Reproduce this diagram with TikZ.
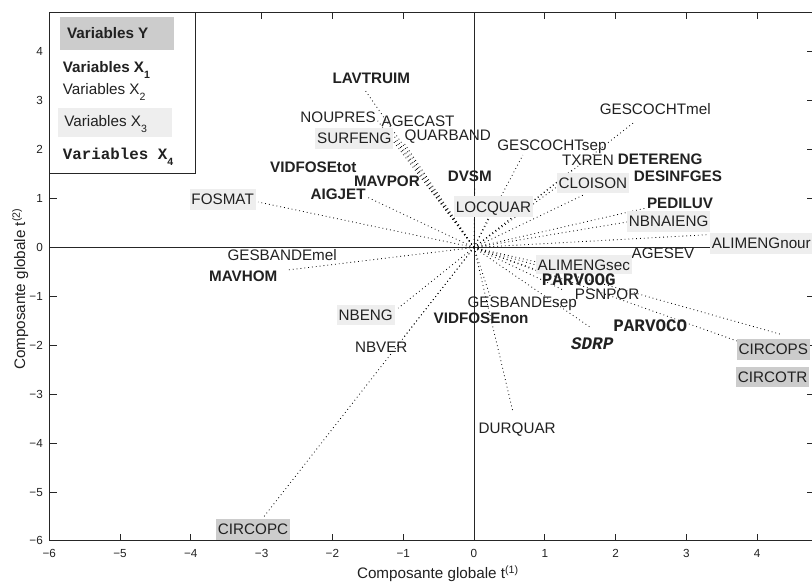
\documentclass[tikz,border=0pt]{standalone}
\usepackage{fontspec}
\setmainfont{Liberation Sans}
\setmonofont{Liberation Mono}
\usetikzlibrary{positioning}

\definecolor{boxdark}{gray}{0.8}
\definecolor{boxlight}{gray}{0.935}
\definecolor{labeltext}{gray}{0.13}
\newcommand{\legsub}[1]{\raisebox{-5pt}{\fontsize{9}{10}\selectfont #1}}

\begin{document}
\begin{tikzpicture}[
        x=2.124cm, y=1.467cm,
        var_y/.style={fill=boxdark, text=labeltext, font=\fontsize{13}{15}\selectfont, inner xsep=1.5pt, inner ysep=4.2pt, text height=9.4pt, text depth=0pt},
        var_x1/.style={text=labeltext, font=\fontsize{13}{15}\selectfont\bfseries, inner sep=1pt, text height=9.4pt, text depth=0pt},
        var_x2/.style={text=labeltext, font=\fontsize{13}{15}\selectfont, inner sep=1pt, text height=9.4pt, text depth=0pt},
        var_x3/.style={fill=boxlight, text=labeltext, font=\fontsize{13}{15}\selectfont, inner xsep=1.5pt, inner ysep=4.2pt, text height=9.4pt, text depth=0pt},
        var_x4/.style={text=labeltext, font=\fontsize{15}{17}\selectfont\ttfamily\bfseries, inner sep=1pt, text height=9pt, text depth=0pt},
        var_line/.style={black, line width=0.7pt, dash pattern=on 0.7pt off 2.6pt},
        axis_line/.style={black!85, line width=0.8pt},
        tick_label/.style={text=labeltext, font=\fontsize{10}{12}\selectfont, inner sep=1pt, text height=7pt, text depth=0pt},
        leg_text/.style={text=labeltext, anchor=west, inner sep=0pt, text height=9.4pt, text depth=0pt}
        ]
            \useasboundingbox (-6.695,-6.881) rectangle (4.774,5.061);
            \clip (-6.695,-6.881) rectangle (4.774,5.061);

            % Axes
            \draw[axis_line] (-6,-6) rectangle (4.8,4.8);
            \draw[axis_line] (-6,0) -- (4.8,0);
            \draw[axis_line] (0,-6) -- (0,4.8);
            \foreach \t/\lab in {-6/−6,-5/−5,-4/−4,-3/−3,-2/−2,-1/−1,0/0,1/1,2/2,3/3,4/4}
            {
                \draw[axis_line] (\t,-6) -- ++(0,0.2cm);
                \draw[axis_line] (\t,4.8) -- ++(0,-0.2cm);
                \draw[axis_line] (-6,\t) -- ++(0.22cm,0);
                \draw[axis_line] (4.8,\t) -- ++(-0.22cm,0);
                \node[tick_label] at (\t,-6.26) {\lab};
                \node[tick_label, anchor=east] at (-6.07,\t) {\lab};
            }
            \node[text=labeltext, font=\fontsize{13}{15}\selectfont] (title_x) at (-0.51,-6.68) {Composante globale t\textsuperscript{(1)}};
            \node[text=labeltext, font=\fontsize{13}{15}\selectfont, rotate=90] (title_y) at (-6.41,-0.85) {Composante globale t\textsuperscript{(2)}};

            % end points
            \coordinate (origin) at (0,0);
            \coordinate (e_lavtruim)  at (-1.54,3.22);
            \coordinate (e_noupres)   at (-1.36,2.59);
            \coordinate (e_agecast)   at (-1.21,2.44);
            \coordinate (e_surfeng)   at (-1.12,2.20);
            \coordinate (e_quarband)  at (-0.99,2.14);
            \coordinate (e_mavpor)    at (-0.69,1.32);
            \coordinate (e_aigjet)    at (-1.51,1.03);
            \coordinate (e_fosmat)    at (-3.05,0.93);
            \coordinate (e_dvsm)      at (0.01,1.22);
            \coordinate (e_locquar)   at (0.20,0.60);
            \coordinate (e_gescosep)  at (0.69,1.89);
            \coordinate (e_gescomel)  at (2.27,2.57);
            \coordinate (e_txren)     at (1.38,1.58);
            \coordinate (e_cloison)   at (1.17,1.24);
            \coordinate (e_desinfges) at (1.54,1.07);
            \coordinate (e_pediluv)   at (2.44,0.81);
            \coordinate (e_nbnaieng)  at (2.16,0.52);
            \coordinate (e_alimnour)  at (3.29,0.26);
            \coordinate (e_alimsec)   at (0.89,-0.30);
            \coordinate (e_parvoog)   at (0.93,-0.50);
            \coordinate (e_psnpor)    at (1.26,-0.87);
            \coordinate (e_gesbsep)   at (0.23,-1.01);
            \coordinate (e_durquar)   at (0.55,-3.36);
            \coordinate (e_sdrp)      at (1.64,-1.63);
            \coordinate (e_circops)   at (4.32,-1.77);
            \coordinate (e_circotr)   at (3.71,-1.91);
            \coordinate (e_mavhom)    at (-2.63,-0.46);
            \coordinate (e_nbeng)     at (-1.07,-1.24);
            \coordinate (e_nbver)     at (-1.00,-1.85);
            \coordinate (e_circopc)   at (-2.97,-5.51);

            % Lines
            \draw[var_line] (origin) -- (e_lavtruim);
            \draw[var_line] (origin) -- (e_noupres);
            \draw[var_line] (origin) -- (e_agecast);
            \draw[var_line] (origin) -- (e_surfeng);
            \draw[var_line] (origin) -- (e_quarband);
            \draw[var_line] (origin) -- (e_mavpor);
            \draw[var_line] (origin) -- (e_aigjet);
            \draw[var_line] (origin) -- (e_fosmat);
            \draw[var_line] (origin) -- (e_dvsm);
            \draw[var_line] (origin) -- (e_locquar);
            \draw[var_line] (origin) -- (e_gescosep);
            \draw[var_line] (origin) -- (e_gescomel);
            \draw[var_line] (origin) -- (e_txren);
            \draw[var_line] (origin) -- (e_cloison);
            \draw[var_line] (origin) -- (e_desinfges);
            \draw[var_line] (origin) -- (e_pediluv);
            \draw[var_line] (origin) -- (e_nbnaieng);
            \draw[var_line] (origin) -- (e_alimnour);
            \draw[var_line] (origin) -- (e_alimsec);
            \draw[var_line] (origin) -- (e_parvoog);
            \draw[var_line] (origin) -- (e_psnpor);
            \draw[var_line] (origin) -- (e_gesbsep);
            \draw[var_line] (origin) -- (e_durquar);
            \draw[var_line] (origin) -- (e_sdrp);
            \draw[var_line] (origin) -- (e_circops);
            \draw[var_line] (origin) -- (e_circotr);
            \draw[var_line] (origin) -- (e_mavhom);
            \draw[var_line] (origin) -- (e_nbeng);
            \draw[var_line] (origin) -- (e_nbver);
            \draw[var_line] (origin) -- (e_circopc);

            % variables Y
            \node[var_y, anchor=west] (v_circops) at (3.71,-2.08) {CIRCOPS};
            \node[var_y, anchor=west] (v_circotr) at (3.70,-2.65) {CIRCOTR};
            \node[var_y]              (v_circopc) at (-3.12,-5.76) {CIRCOPC};
            % variables X1
            \node[var_x1] (v_lavtruim)   at (-1.45,3.47)  {LAVTRUIM};
            \node[var_x1] (v_vidfosetot) at (-2.27,1.64)  {VIDFOSEtot};
            \node[var_x1] (v_mavpor)     at (-1.23,1.36)  {MAVPOR};
            \node[var_x1] (v_aigjet)     at (-1.92,1.09)  {AIGJET};
            \node[var_x1] (v_dvsm)       at (-0.06,1.46)  {DVSM};
            \node[var_x1] (v_detereng)   at (2.63,1.81)   {DETERENG};
            \node[var_x1] (v_desinfges)  at (2.88,1.46)   {DESINFGES};
            \node[var_x1] (v_pediluv)    at (2.91,0.91)   {PEDILUV};
            \node[var_x1] (v_mavhom)     at (-3.26,-0.58) {MAVHOM};
            \node[var_x1] (v_vidfosenon) at (0.10,-1.44)  {VIDFOSEnon};
            % variables X2
            \node[var_x2] (v_noupres)  at (-1.92,2.67)  {NOUPRES};
            \node[var_x2] (v_agecast)  at (-0.79,2.59)  {AGECAST};
            \node[var_x2] (v_quarband) at (-0.37,2.30)  {QUARBAND};
            \node[var_x2] (v_gescomel) at (2.56,2.83)   {GESCOCHTmel};
            \node[var_x2] (v_gescosep) at (1.10,2.10)   {GESCOCHTsep};
            \node[var_x2] (v_txren)    at (1.61,1.79)   {TXREN};
            \node[var_x2] (v_agesev)   at (2.67,-0.11)  {AGESEV};
            \node[var_x2] (v_psnpor)   at (1.88,-0.95)  {PSNPOR};
            \node[var_x2] (v_gesbsep)  at (0.68,-1.11)  {GESBANDEsep};
            \node[var_x2] (v_durquar)  at (0.61,-3.69)  {DURQUAR};
            \node[var_x2] (v_gesbmel)  at (-2.71,-0.15) {GESBANDEmel};
            \node[var_x2] (v_nbver)    at (-1.31,-2.03) {NBVER};
            % variables X3
            \node[var_x3] (v_surfeng)  at (-1.69,2.23)  {SURFENG};
            \node[var_x3] (v_fosmat)   at (-3.55,0.99)  {FOSMAT};
            \node[var_x3] (v_locquar)  at (0.275,0.83)  {LOCQUAR};
            \node[var_x3] (v_cloison)  at (1.68,1.32)   {CLOISON};
            \node[var_x3] (v_nbnaieng) at (2.75,0.54)   {NBNAIENG};
            \node[var_x3, anchor=west] (v_alimnour) at (3.33,0.09) {ALIMENGnour};
            \node[var_x3, inner ysep=3.2pt] (v_alimsec) at (1.55,-0.35) {ALIMENGsec};
            \node[var_x3] (v_nbeng)    at (-1.53,-1.38) {NBENG};
            % variables X4
            \node[var_x4] (v_parvoog) at (1.48,-0.675) {PARVOOG};
            \node[var_x4] (v_parvoco) at (2.49,-1.61) {PARVOCO};
            \node[var_x4, font=\fontsize{15}{17}\selectfont\ttfamily\bfseries\itshape] (v_sdrp) at (1.67,-1.97) {SDRP};

            % legend
            \draw[axis_line, fill=white] (-6,4.8) rectangle (-3.94,1.52);
            \fill[boxdark]  (-5.85,4.72) rectangle (-4.24,4.04);
            \fill[boxlight] (-5.88,2.85) rectangle (-4.27,2.26);
            \node[leg_text, font=\fontsize{13}{15}\selectfont\bfseries] (leg_y)  at (-5.75,4.39) {Variables Y};
            \node[leg_text, font=\fontsize{13}{15}\selectfont\bfseries] (leg_x1) at (-5.81,3.69) {Variables X\legsub{1}};
            \node[leg_text, font=\fontsize{13}{15}\selectfont]          (leg_x2) at (-5.81,3.24) {Variables X\legsub{2}};
            \node[leg_text, font=\fontsize{13}{15}\selectfont]          (leg_x3) at (-5.79,2.59) {Variables X\legsub{3}};
            \node[leg_text, font=\fontsize{13.5}{15}\selectfont\ttfamily\bfseries] (leg_x4) at (-5.81,1.91) {Variables X\legsub{\rmfamily\bfseries 4}};
        \end{tikzpicture}
\end{document}
